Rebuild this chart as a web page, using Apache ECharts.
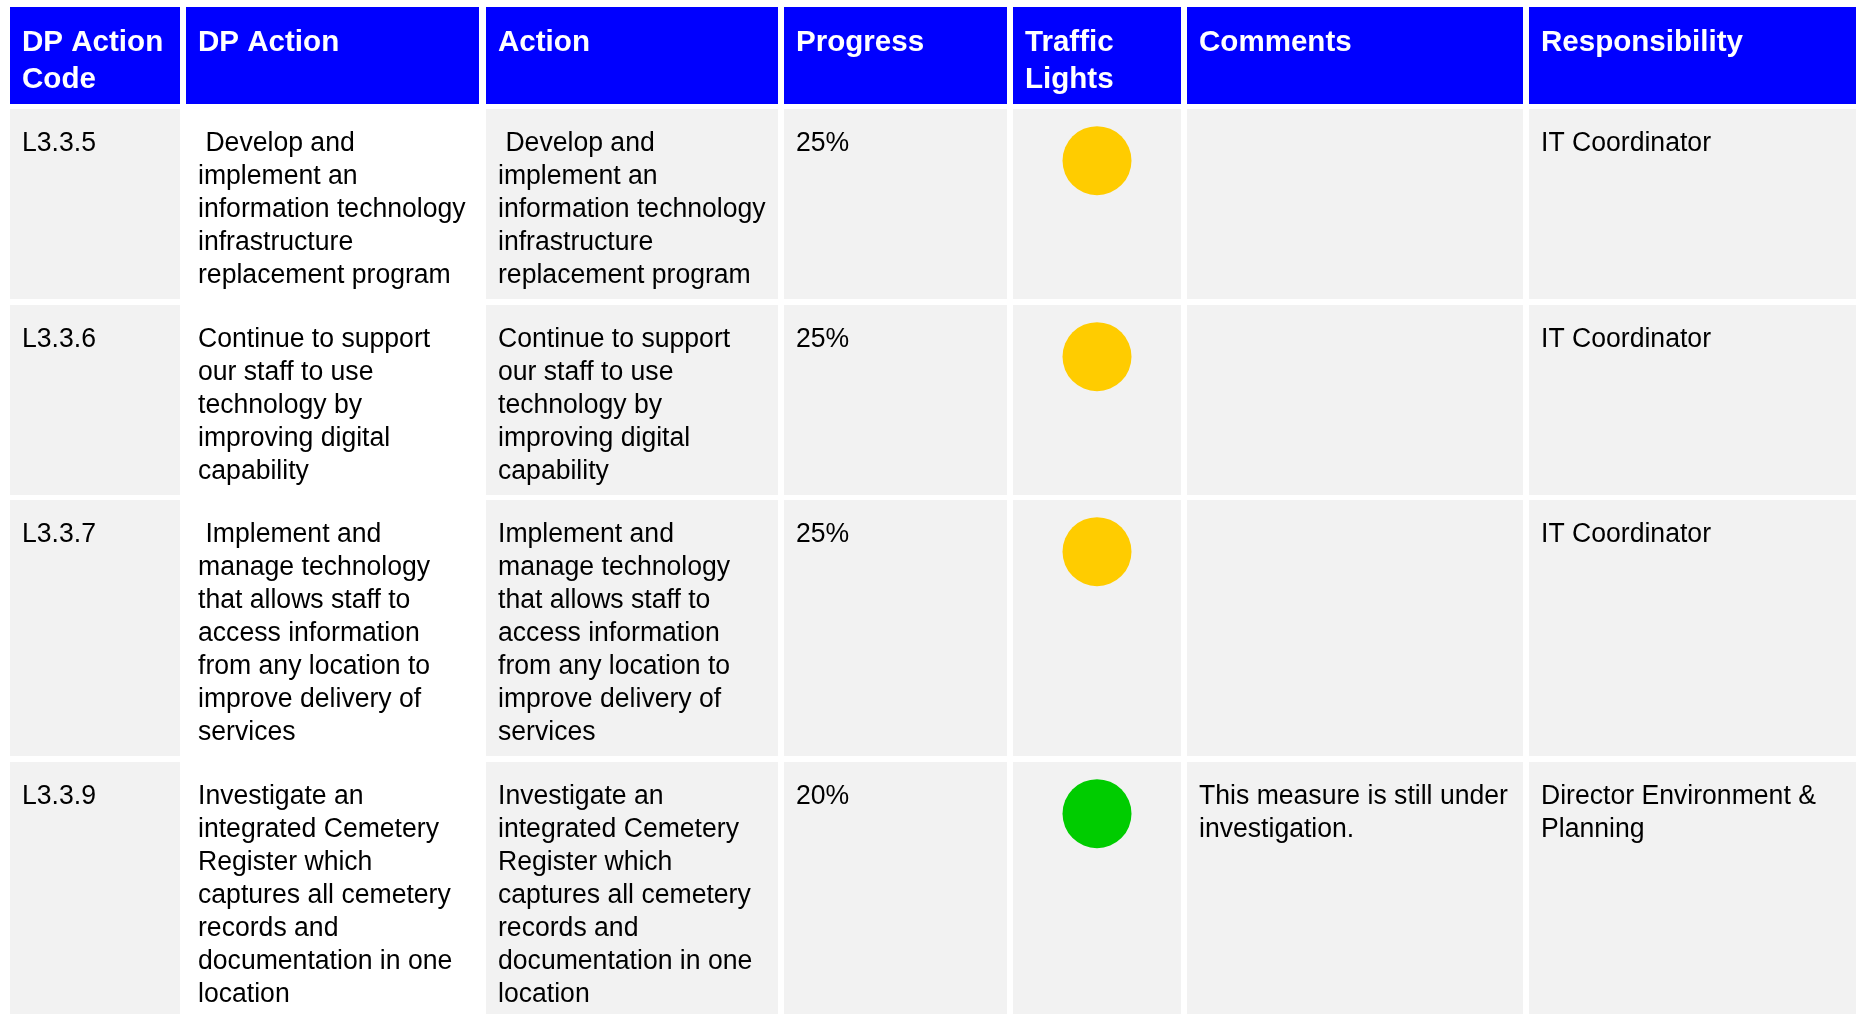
<!DOCTYPE html>
<html><head><meta charset="utf-8">
<script src="https://cdn.jsdelivr.net/npm/echarts@6/dist/echarts.min.js"></script>
<style>html,body{margin:0;padding:0;background:#fff;overflow:hidden}#chart{width:1856px;height:1014px;}</style>
</head><body><div id="chart"></div>
<script>
// ---- data ----
const headers = ['DP Action\nCode', 'DP Action', 'Action', 'Progress', 'Traffic\nLights', 'Comments', 'Responsibility'];
const codes = ['L3.3.5', 'L3.3.6', 'L3.3.7', 'L3.3.9'];
const dpActions = [
  ' Develop and\nimplement an\ninformation technology\ninfrastructure\nreplacement program',
  'Continue to support\nour staff to use\ntechnology by\nimproving digital\ncapability',
  ' Implement and\nmanage technology\nthat allows staff to\naccess information\nfrom any location to\nimprove delivery of\nservices',
  'Investigate an\nintegrated Cemetery\nRegister which\ncaptures all cemetery\nrecords and\ndocumentation in one\nlocation'
];
const actions = [
  ' Develop and\nimplement an\ninformation technology\ninfrastructure\nreplacement program',
  'Continue to support\nour staff to use\ntechnology by\nimproving digital\ncapability',
  'Implement and\nmanage technology\nthat allows staff to\naccess information\nfrom any location to\nimprove delivery of\nservices',
  'Investigate an\nintegrated Cemetery\nRegister which\ncaptures all cemetery\nrecords and\ndocumentation in one\nlocation'
];
const progress = ['25%', '25%', '25%', '20%'];
const trafficLights = ['amber', 'amber', 'amber', 'green'];
const comments = ['', '', '', 'This measure is still under\ninvestigation.'];
const responsibility = ['IT Coordinator', 'IT Coordinator', 'IT Coordinator', 'Director Environment &\nPlanning'];

// ---- layout / style (not data) ----
const COL_EDGES = [[10,180],[186,479],[486,778],[784,1007],[1013,1181],[1187,1523],[1529,1856]];
const ROW_EDGES = [[7,104],[109,299],[305,495],[500,756],[762,1014]];
const LIGHT_COLORS = { amber: '#FFCC00', green: '#00CC00', red: '#FF0000' };
const FONT = '"Liberation Sans", Arial, sans-serif';
const PAD_X = 12;
const TEXT_SCALE_X = 0.985;

const columns = [codes, dpActions, actions, progress, trafficLights.map(() => ''), comments, responsibility];

const cellData = [];
for (let r = 0; r < ROW_EDGES.length; r++) {
  for (let c = 0; c < COL_EDGES.length; c++) cellData.push([c, r]);
}
const lightData = trafficLights.map((s, i) => [4, i + 1, s]);

const chart = echarts.init(document.getElementById('chart'), null, { renderer: 'canvas' });

chart.setOption({
  animation: false,
  backgroundColor: '#ffffff',
  grid: { left: 0, right: 0, top: 0, bottom: 0 },
  xAxis: { type: 'value', min: 0, max: 1856, show: false },
  yAxis: { type: 'value', min: 0, max: 1014, inverse: true, show: false },
  series: [
    {
      type: 'custom',
      data: cellData,
      renderItem: function (params, api) {
        const c = api.value(0), r = api.value(1);
        const [x0, x1] = COL_EDGES[c];
        const [y0, y1] = ROW_EDGES[r];
        const p0 = api.coord([x0, y0]);
        const p1 = api.coord([x1, y1]);
        const isHeader = r === 0;
        const fillCol = isHeader ? '#0000FF' : (c === 1 ? '#FFFFFF' : '#F2F2F2');
        const txt = isHeader ? headers[c] : columns[c][r - 1];
        return {
          type: 'group',
          children: [
            { type: 'rect', shape: { x: p0[0], y: p0[1], width: p1[0] - p0[0], height: p1[1] - p0[1] },
              style: { fill: fillCol } },
            { type: 'text',
              x: p0[0] + PAD_X,
              y: p0[1] + (isHeader ? 17.5 : 17.6),
              scaleX: TEXT_SCALE_X,
              style: {
                text: txt,
                x: 0,
                y: 0,
                fill: isHeader ? '#FFFFFF' : '#000000',
                fontFamily: FONT,
                fontSize: isHeader ? 30 : 27,
                fontWeight: isHeader ? 'bold' : 'normal',
                lineHeight: isHeader ? 36.5 : 33.1,
                align: 'left',
                verticalAlign: 'top'
              } }
          ]
        };
      }
    },
    {
      type: 'custom',
      data: lightData,
      z: 5,
      renderItem: function (params, api) {
        const c = api.value(0), r = api.value(1);
        const status = lightData[params.dataIndex][2];
        const [x0, x1] = COL_EDGES[c];
        const [y0] = ROW_EDGES[r];
        const center = api.coord([(x0 + x1) / 2, y0 + 51.7]);
        return { type: 'circle', shape: { cx: center[0], cy: center[1], r: 34.5 },
          style: { fill: LIGHT_COLORS[status] } };
      }
    }
  ]
});
</script></body></html>
